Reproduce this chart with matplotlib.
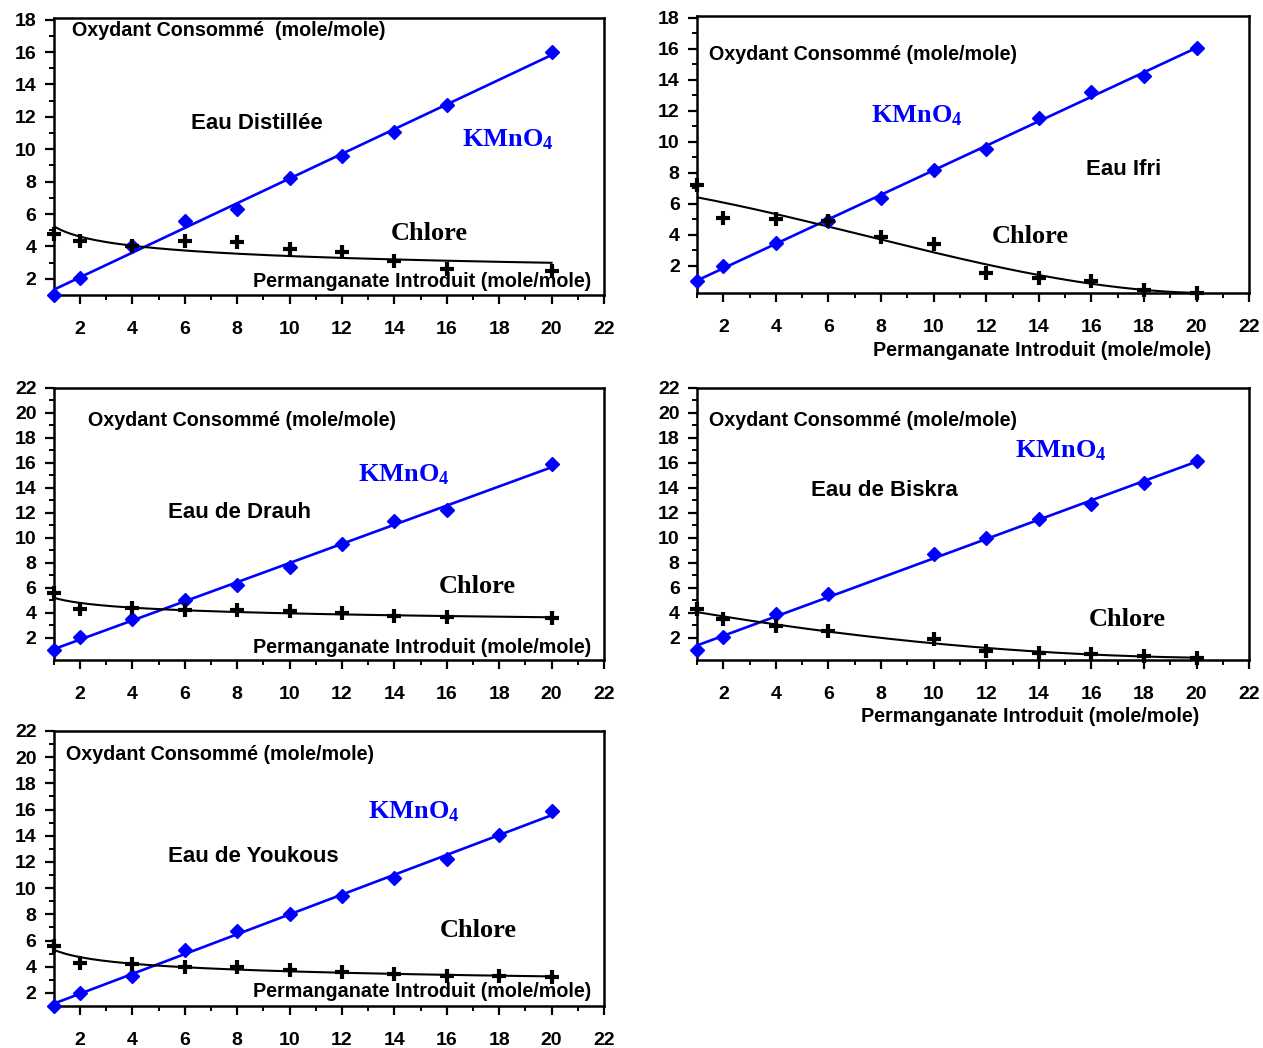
import numpy as np
import matplotlib
matplotlib.use('Agg')
import matplotlib.pyplot as plt
from matplotlib.ticker import MultipleLocator

plt.rcParams['font.family'] = ['Liberation Sans', 'DejaVu Sans']
plt.rcParams['font.weight'] = 'bold'
plt.rcParams['mathtext.fontset'] = 'custom'
plt.rcParams['mathtext.rm'] = 'Liberation Serif:bold'
plt.rcParams['mathtext.it'] = 'Liberation Serif:bold'
plt.rcParams['mathtext.bf'] = 'Liberation Serif:bold'

BLUE = '#0000ff'

# Eau Distillée
dist_kx = [1, 2, 4, 6, 8, 10, 12, 14, 16, 20]
dist_k = [1.03, 2.06, 4.02, 5.56, 6.34, 8.23, 9.57, 11.07, 12.7, 16.0]
dist_cx = [1, 2, 4, 6, 8, 10, 12, 14, 16, 20]
dist_c = [4.78, 4.33, 4.02, 4.33, 4.26, 3.85, 3.67, 3.09, 2.62, 2.47]

# Eau Ifri
ifri_kx = [1, 2, 4, 6, 8, 10, 12, 14, 16, 18, 20]
ifri_k = [1.0, 1.98, 3.48, 4.87, 6.34, 8.19, 9.53, 11.53, 13.22, 14.22, 16.05]
ifri_cx = [1, 2, 4, 6, 8, 10, 12, 14, 16, 18, 20]
ifri_c = [7.19, 5.1, 5.02, 4.87, 3.82, 3.39, 1.54, 1.17, 1.0, 0.42, 0.26]

# Eau de Drauh
drauh_kx = [1, 2, 4, 6, 8, 10, 12, 14, 16, 20]
drauh_k = [1.02, 2.05, 3.51, 5.05, 6.24, 7.7, 9.55, 11.35, 12.25, 15.88]
drauh_cx = [1, 2, 4, 6, 8, 10, 12, 14, 16, 20]
drauh_c = [5.58, 4.3, 4.38, 4.25, 4.2, 4.12, 3.99, 3.77, 3.67, 3.59]

# Eau de Biskra
biskra_kx = [1, 2, 4, 6, 10, 12, 14, 16, 18, 20]
biskra_k = [1.02, 2.05, 3.91, 5.52, 8.7, 10.03, 11.54, 12.68, 14.37, 16.17]
biskra_cx = [1, 2, 4, 6, 10, 12, 14, 16, 18, 20]
biskra_c = [4.3, 3.51, 2.93, 2.53, 1.92, 0.99, 0.81, 0.73, 0.54, 0.41]

# Eau de Youkous
youk_kx = [1, 2, 4, 6, 8, 10, 12, 14, 16, 18, 20]
youk_k = [1.03, 2.0, 3.32, 5.26, 6.71, 8.06, 9.39, 10.74, 12.24, 14.05, 15.89]
youk_cx = [1, 2, 4, 6, 8, 10, 12, 14, 16, 18, 20]
youk_c = [5.57, 4.29, 4.22, 3.99, 3.99, 3.73, 3.58, 3.45, 3.32, 3.27, 3.2]

X_LABEL = 'Permanganate Introduit (mole/mole)'


def trend(x, y, kind):
    # trend line fitted on the points (like the spreadsheet trendlines)
    x = np.asarray(x, float)
    y = np.asarray(y, float)
    xs = np.linspace(x.min(), x.max(), 200)
    if kind == 'power':
        b, a = np.polyfit(np.log(x), np.log(y), 1)
        return xs, np.exp(a) * xs ** b
    return xs, np.polyval(np.polyfit(x, y, kind), xs)


def draw_panel(ax, kx, k, cx, c, ckind, ylim, ytop):
    xs, ys = trend(kx, k, 1)
    ax.plot(xs, ys, color=BLUE, lw=1.9, zorder=3)
    ax.plot(kx, k, 'D', color=BLUE, ms=7.2, zorder=4, clip_on=False)
    xs, ys = trend(cx, c, ckind)
    ax.plot(xs, ys, color='black', lw=1.5, zorder=3)
    ax.plot(cx, c, '+', color='black', ms=10, mew=3, zorder=4, clip_on=False)

    ax.set_xlim(1, 22)
    ax.set_ylim(*ylim)
    ax.set_xticks(range(2, 23, 2))
    ax.set_yticks(range(2, ytop + 1, 2))
    ax.xaxis.set_minor_locator(MultipleLocator(1))
    ax.yaxis.set_minor_locator(MultipleLocator(1))
    ax.tick_params(which='major', direction='out', length=6.5, width=1.6,
                   labelsize=14)
    ax.tick_params(axis='x', which='major', pad=12)
    ax.tick_params(axis='y', which='major', pad=6)
    ax.tick_params(which='minor', direction='out', length=3.5, width=1.4)
    for s in ax.spines.values():
        s.set_linewidth(1.8)


fig = plt.figure(figsize=(12.63, 10.48), dpi=100)

ax1 = fig.add_axes([0.0426, 0.7185, 0.4356, 0.2643])
draw_panel(ax1, dist_kx, dist_k, dist_cx, dist_c, 'power', (1, 18.1), 18)
ax1.text(1.69, 17.3, 'Oxydant Consommé  (mole/mole)', fontsize=14.2, va='center')
ax1.text(6.24, 11.6, 'Eau Distillée', fontsize=16, va='center')
ax1.text(16.6, 10.6, r'KMnO$_4$', fontsize=19, color=BLUE, va='center',
         family='Liberation Serif')
ax1.text(13.87, 4.77, 'Chlore', fontsize=19, va='center', family='Liberation Serif')
ax1.text(8.6, 1.86, X_LABEL, fontsize=14.2, va='center')

ax2 = fig.add_axes([0.5519, 0.720, 0.4371, 0.2647])
draw_panel(ax2, ifri_kx, ifri_k, ifri_cx, ifri_c, 3, (0.2, 18.1), 18)
ax2.text(1.46, 15.6, 'Oxydant Consommé (mole/mole)', fontsize=14.2, va='center')
ax2.text(7.6, 11.7, r'KMnO$_4$', fontsize=19, color=BLUE, va='center',
         family='Liberation Serif')
ax2.text(15.8, 8.2, 'Eau Ifri', fontsize=16, va='center')
ax2.text(12.2, 3.9, 'Chlore', fontsize=19, va='center', family='Liberation Serif')
ax2.text(7.69, -0.207, X_LABEL, fontsize=14.2, va='center',
         transform=ax2.get_xaxis_transform())

ax3 = fig.add_axes([0.0426, 0.3698, 0.4356, 0.26])
draw_panel(ax3, drauh_kx, drauh_k, drauh_cx, drauh_c, 'power', (0.2, 22), 22)
ax3.text(2.3, 19.4, 'Oxydant Consommé (mole/mole)', fontsize=14.2, va='center')
ax3.text(12.6, 15.1, r'KMnO$_4$', fontsize=19, color=BLUE, va='center',
         family='Liberation Serif')
ax3.text(5.35, 12.0, 'Eau de Drauh', fontsize=16, va='center')
ax3.text(15.7, 6.1, 'Chlore', fontsize=19, va='center', family='Liberation Serif')
ax3.text(8.6, 1.2, X_LABEL, fontsize=14.2, va='center')

ax4 = fig.add_axes([0.5519, 0.3698, 0.4371, 0.26])
draw_panel(ax4, biskra_kx, biskra_k, biskra_cx, biskra_c, 2, (0.2, 22), 22)
ax4.text(1.46, 19.4, 'Oxydant Consommé (mole/mole)', fontsize=14.2, va='center')
ax4.text(13.1, 17.0, r'KMnO$_4$', fontsize=19, color=BLUE, va='center',
         family='Liberation Serif')
ax4.text(5.33, 13.8, 'Eau de Biskra', fontsize=16, va='center')
ax4.text(15.9, 3.5, 'Chlore', fontsize=19, va='center', family='Liberation Serif')
ax4.text(7.25, -0.204, X_LABEL, fontsize=14.2, va='center',
         transform=ax4.get_xaxis_transform())

ax5 = fig.add_axes([0.0426, 0.0401, 0.4356, 0.2624])
draw_panel(ax5, youk_kx, youk_k, youk_cx, youk_c, 'power', (1, 22), 22)
ax5.text(1.47, 20.2, 'Oxydant Consommé (mole/mole)', fontsize=14.2, va='center')
ax5.text(13.0, 15.8, r'KMnO$_4$', fontsize=19, color=BLUE, va='center',
         family='Liberation Serif')
ax5.text(5.35, 12.4, 'Eau de Youkous', fontsize=16, va='center')
ax5.text(15.75, 6.8, 'Chlore', fontsize=19, va='center', family='Liberation Serif')
ax5.text(8.6, 2.07, X_LABEL, fontsize=14.2, va='center')

fig.savefig('out.png', dpi=100)
